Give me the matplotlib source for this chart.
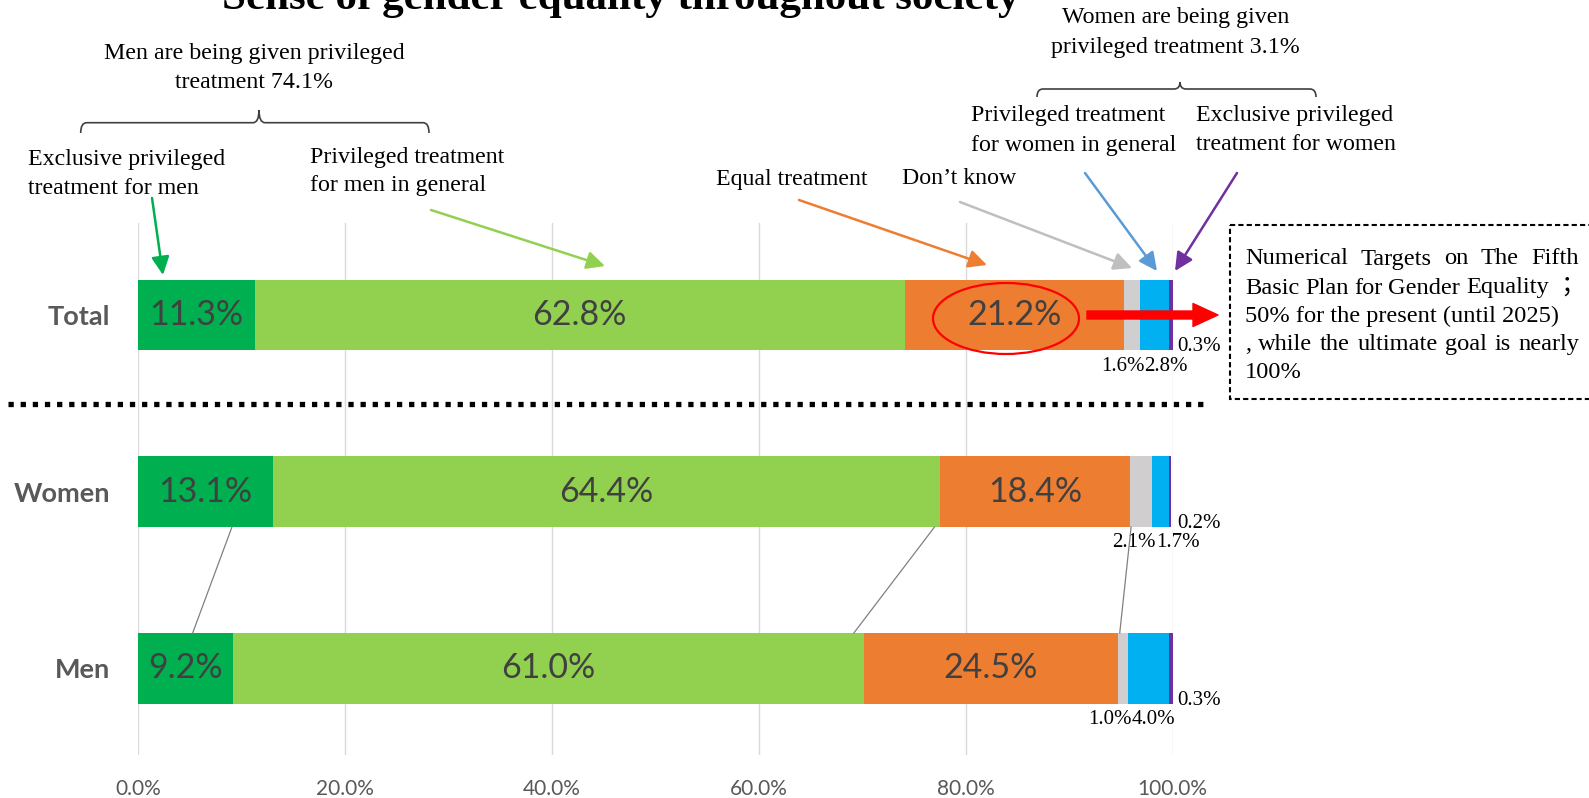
import numpy as np
import matplotlib.pyplot as plt
from matplotlib.patches import Ellipse, Rectangle, PathPatch
from matplotlib.path import Path

groups = ['Total', 'Women', 'Men']
excl_men = [11.3, 13.1, 9.2]
priv_men = [62.8, 64.4, 61.0]
equal = [21.2, 18.4, 24.5]
dont_know = [1.6, 2.1, 1.0]
priv_women = [2.8, 1.7, 4.0]
excl_women = [0.3, 0.2, 0.3]
xticks = [0, 20, 40, 60, 80, 100]
colors = ['#00B050', '#92D050', '#ED7D31', '#D0CECE', '#00B0F0', '#7030A0']

title = 'Sense of gender equality throughout society'
serif = ['Liberation Serif', 'Noto Sans CJK JP']
sans = ['Lato', 'DejaVu Sans']

W, H = 1589, 798
fig = plt.figure(figsize=(W / 100, H / 100), dpi=100)
ax = fig.add_axes([137.8 / W, 1 - 755 / H, (1172.5 - 137.8) / W, (755 - 223) / H])

# overlay axes in pixel units for the hand drawn annotations
ov = fig.add_axes([0, 0, 1, 1], zorder=5)
ov.set_xlim(0, W)
ov.set_ylim(H, 0)
ov.axis('off')

series = [excl_men, priv_men, equal, dont_know, priv_women, excl_women]
y = np.arange(len(groups))
left = np.zeros(len(groups))
for k, (vals, c) in enumerate(zip(series, colors)):
    bars = ax.barh(y, vals, left=left, height=0.4, color=c, zorder=3)
    if k < 3:
        ax.bar_label(bars, labels=[f'{v:.1f}%' for v in vals], label_type='center',
                     fontsize=24.5, color='#404040', family=sans)
    left += np.array(vals)

for i in range(len(groups)):
    ax.annotate(f'{excl_women[i]:.1f}%', xy=(100, i + 0.18), xytext=(5, 0), textcoords='offset pixels',
                ha='left', va='center', fontsize=15, family=serif)
    gray_end = excl_men[i] + priv_men[i] + equal[i] + dont_know[i]
    ax.annotate(f'{dont_know[i]:.1f}%', xy=(gray_end, i + 0.29), xytext=(4, 0), textcoords='offset pixels',
                ha='right', va='center', fontsize=15, family=serif)
    ax.annotate(f'{priv_women[i]:.1f}%', xy=(gray_end, i + 0.29), xytext=(4, 0), textcoords='offset pixels',
                ha='left', va='center', fontsize=15, family=serif)

# connector lines between Women and Men bars
for a, b in [(9.1, 5.3), (77.0, 69.2), (96.0, 94.9)]:
    ax.plot([a, b], [1.2, 1.8], color='#808080', lw=0.9, zorder=4)

ax.set_xlim(0, 100)
ax.set_ylim(2.49, -0.52)
ax.set_xticks(xticks, [f'{t:.1f}%' for t in xticks])
ax.set_yticks(y, groups)
for s in ax.spines.values():
    s.set_visible(False)
ax.grid(axis='x', color='#D9D9D9', lw=1.0, zorder=0)
ax.set_axisbelow(True)
ax.tick_params(axis='x', length=0, pad=17, labelsize=15, labelcolor='#595959')
ax.tick_params(axis='y', length=0, pad=20, labelsize=19.5, labelcolor='#595959')
for t in ax.get_xticklabels():
    t.set_family(sans)
for t in ax.get_yticklabels():
    t.set_family(sans)
    t.set_fontweight('bold')

# title, cut at the top as in the source
ov.text(621, 9, title, ha='center', va='baseline', fontsize=31, fontweight='bold', family=serif)

notes = [
    ('Men are being given privileged', 254, 54, 'center'),
    ('treatment 74.1%', 254, 83, 'center'),
    ('Women are being given', 1175.5, 17, 'center'),
    ('privileged treatment 3.1%', 1175.5, 47, 'center'),
    ('Exclusive privileged', 28.4, 159, 'left'),
    ('treatment for men', 28.4, 188.5, 'left'),
    ('Privileged treatment', 310, 157, 'left'),
    ('for men in general', 310, 185.5, 'left'),
    ('Equal treatment', 715.5, 179, 'left'),
    ('Don\u2019t know', 902, 179, 'left'),
    ('Privileged treatment', 971, 115.5, 'left'),
    ('for women in general', 971, 145, 'left'),
    ('Exclusive privileged', 1196, 115.5, 'left'),
    ('treatment for women', 1196, 145, 'left'),
]
for s, xx, yy, ha in notes:
    ov.text(xx, yy, s, ha=ha, va='center', fontsize=17.2, family=serif)


def brace(x0, x1, xm, ybar, ytip, yend, r=6):
    verts = [(x0, yend), (x0, ybar), (x0 + r, ybar), (xm - r, ybar), (xm, ybar), (xm, ytip),
             (xm, ybar), (xm + r, ybar), (x1 - r, ybar), (x1, ybar), (x1, yend)]
    codes = [Path.MOVETO, Path.CURVE3, Path.CURVE3, Path.LINETO, Path.CURVE3, Path.CURVE3,
             Path.CURVE3, Path.CURVE3, Path.LINETO, Path.CURVE3, Path.CURVE3]
    ov.add_patch(PathPatch(Path(verts, codes), fill=False, ec='#404040', lw=1.2))


brace(80.7, 429, 259, 122.7, 110, 133)
brace(1037, 1316, 1180, 89, 82, 97)

arrows = [
    ((152, 198), (163, 275), '#00B050'),
    ((431, 210), (605, 266), '#92D050'),
    ((799, 200), (987, 265), '#ED7D31'),
    ((960, 202), (1132, 268), '#BFBFBF'),
    ((1085, 173), (1157, 271), '#5B9BD5'),
    ((1237, 173), (1175, 271), '#7030A0'),
]
for start, tip, c in arrows:
    ov.annotate('', xy=tip, xytext=start,
                arrowprops=dict(arrowstyle='-|>,head_length=0.55,head_width=0.27', color=c, lw=1.8,
                                mutation_scale=20, shrinkA=0, shrinkB=0))

ov.add_patch(Ellipse((1006, 318.5), 146, 71, fill=False, ec='red', lw=1.6))
ov.annotate('', xy=(1218, 315), xytext=(1087, 315),
            arrowprops=dict(arrowstyle='simple,head_length=1.0,head_width=0.92,tail_width=0.32',
                            color='red', mutation_scale=18, shrinkA=0, shrinkB=0))

ov.plot([8, 1204], [404, 404], color='black', lw=3.8, ls=(0, (1, 1.3)))

ov.add_patch(Rectangle((1230, 225), 400, 174, fill=False, ec='black', lw=1.5, ls=(0, (2.5, 1.5))))

box_lines = [
    ('Numerical Targets on The Fifth', 259, True),
    ('Basic Plan for Gender Equality \uff1b', 288, True),
    ('50% for the present (until 2025)', 316, False),
    (', while the ultimate goal is nearly', 344.5, True),
    ('100%', 373, False),
]
box_left, box_right = 1245, 1579
renderer = fig.canvas.get_renderer()
for line, yy, just in box_lines:
    if not just:
        ov.text(box_left, yy, line, ha='left', va='center', fontsize=17.6, family=serif)
        continue
    words = line.split(' ')
    arts = [ov.text(0, yy, w, ha='left', va='center', fontsize=17.6, family=serif) for w in words]
    widths = [a.get_window_extent(renderer).width for a in arts]
    gap = (box_right - box_left - sum(widths)) / (len(words) - 1)
    x = box_left
    for a, w in zip(arts, widths):
        a.set_x(x)
        x += w + gap

fig.savefig('out.png', dpi=100)
